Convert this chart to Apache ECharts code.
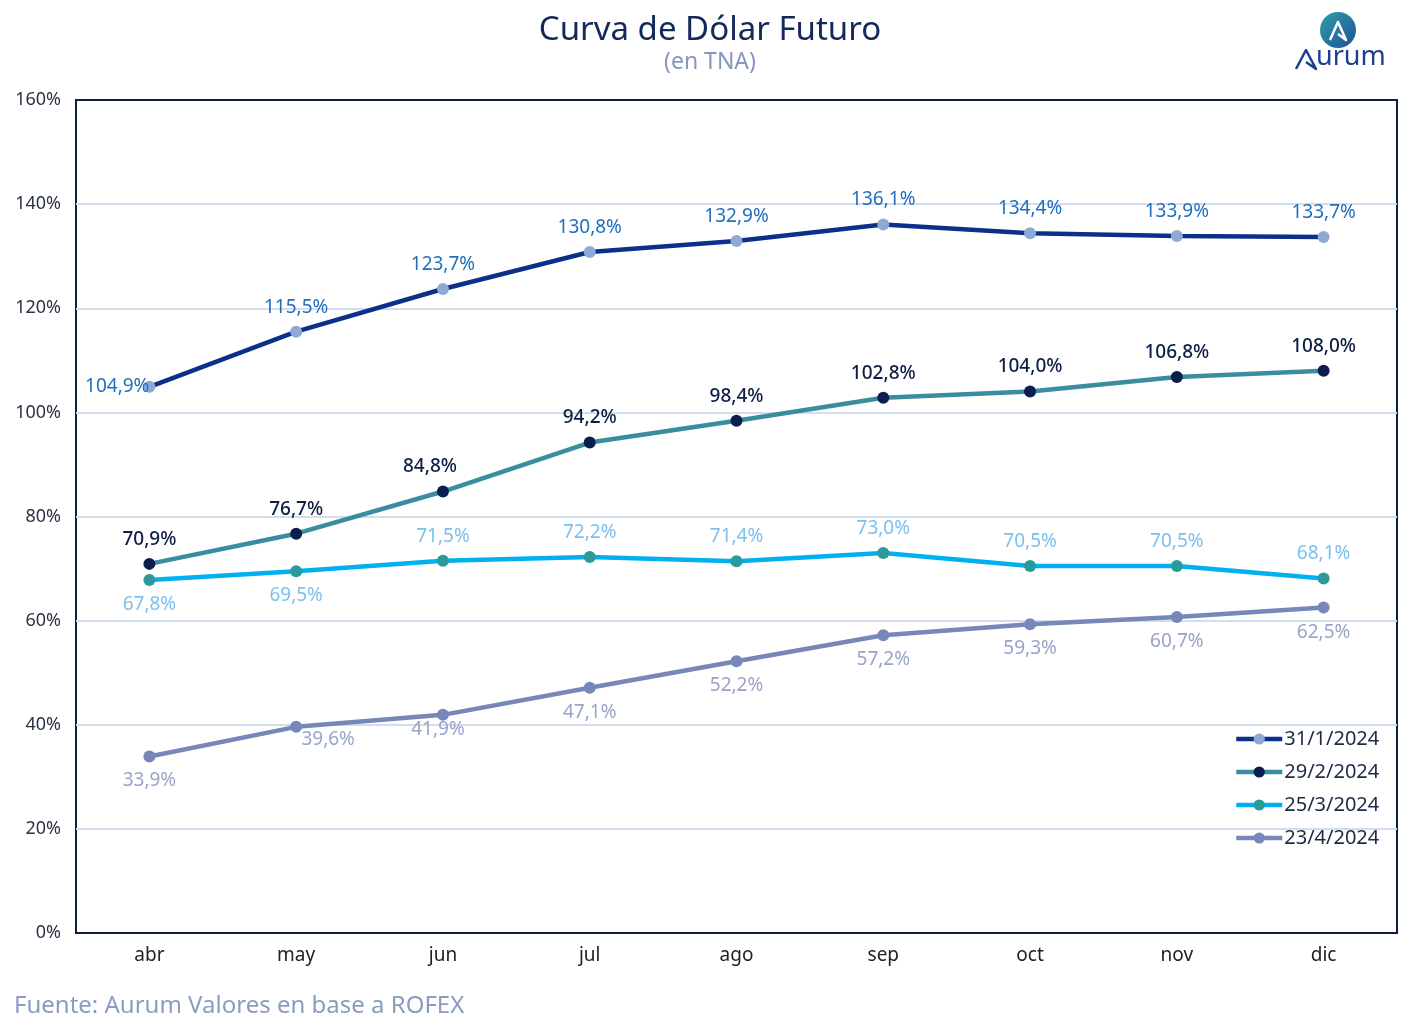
<!DOCTYPE html>
<html>
<head>
<meta charset="utf-8">
<script src="https://cdn.jsdelivr.net/npm/echarts@6/dist/echarts.min.js"></script>
<style>
  html, body { margin: 0; padding: 0; background: #fff; }
  #chart { width: 1420px; height: 1031px; }
</style>
</head>
<body>
<div id="chart"></div>
<script>
const meses = ['abr', 'may', 'jun', 'jul', 'ago', 'sep', 'oct', 'nov', 'dic'];
const fechas = ['31/1/2024', '29/2/2024', '25/3/2024', '23/4/2024'];
const curva_ene = [104.9, 115.5, 123.7, 130.8, 132.9, 136.1, 134.4, 133.9, 133.7];
const curva_feb = [70.9, 76.7, 84.8, 94.2, 98.4, 102.8, 104.0, 106.8, 108.0];
const curva_mar = [67.8, 69.5, 71.5, 72.2, 71.4, 73.0, 70.5, 70.5, 68.1];
const curva_abr = [33.9, 39.6, 41.9, 47.1, 52.2, 57.2, 59.3, 60.7, 62.5];
const yTicks = [0, 20, 40, 60, 80, 100, 120, 140, 160];

const fuente = '"Noto Sans", Lato, sans-serif';
const marco = '#0d1f3c';

function pct(v) {
    return v.toFixed(1).replace('.', ',') + '%';
}

// puntos con la etiqueta movida a mano
function puntos(valores, ajustes) {
    return valores.map(function (v, i) {
        if (ajustes[i]) {
            return { value: v, label: ajustes[i] };
        }
        return v;
    });
}

function serie(nombre, datos, colorLinea, colorPunto, colorTexto, posicion, peso) {
    return {
        name: nombre,
        type: 'line',
        data: datos,
        symbol: 'circle',
        symbolSize: 12,
        lineStyle: { color: colorLinea, width: 4.5 },
        itemStyle: { color: colorPunto },
        color: colorLinea,
        label: {
            show: true,
            position: posicion,
            distance: 9,
            color: colorTexto,
            fontSize: 19,
            fontWeight: peso || 'normal',
            fontFamily: fuente,
            formatter: function (p) { return pct(p.value); }
        },
        emphasis: { disabled: true },
        z: 10
    };
}

let chartDom = document.getElementById('chart');
let myChart = echarts.init(chartDom);
let option;

option = {
    animation: false,
    backgroundColor: '#ffffff',
    grid: {
        left: 76,
        right: 23,
        top: 100,
        bottom: 98,
        show: true,
        borderColor: marco,
        borderWidth: 2
    },
    legend: {
        orient: 'vertical',
        left: 1229,
        top: 724,
        itemWidth: 46,
        itemHeight: 14,
        itemGap: 13,
        data: fechas,
        lineStyle: { width: 4.5 },
        textStyle: { color: '#1c2a48', fontSize: 20, fontFamily: fuente, padding: [0, 0, 0, -3] }
    },
    xAxis: {
        type: 'category',
        data: meses,
        boundaryGap: true,
        axisLine: { show: false },
        axisTick: { show: false },
        axisLabel: { color: '#222', fontSize: 19, fontFamily: fuente, margin: 13 }
    },
    yAxis: {
        type: 'value',
        min: yTicks[0],
        max: yTicks[yTicks.length - 1],
        interval: 20,
        axisLine: { show: false },
        axisTick: { show: false },
        axisLabel: {
            color: '#2a3346',
            fontSize: 18,
            fontFamily: fuente,
            margin: 15,
            formatter: function (v) { return v + '%'; }
        },
        splitLine: {
            showMinLine: false,
            showMaxLine: false,
            lineStyle: { color: '#d3deec', width: 2 }
        }
    },
    series: [
        serie(fechas[0], puntos(curva_ene, {
            0: { position: 'left', distance: -6 }
        }), '#0b2f8a', '#8eaad4', '#1f6fbf', 'top'),
        serie(fechas[1], puntos(curva_feb, {
            2: { offset: [-13, 0] }
        }), '#3a8d9e', '#0b1f4f', '#0d1f45', 'top', 500),
        serie(fechas[2], puntos(curva_mar, {
            0: { position: 'bottom' },
            1: { position: 'bottom' }
        }), '#00b0f0', '#2a9a9a', '#7cc0ef', 'top'),
        serie(fechas[3], puntos(curva_abr, {
            1: { offset: [32, -12] },
            2: { offset: [-5, -10] }
        }), '#7687b8', '#7687b8', '#9aa3c9', 'bottom')
    ],
    graphic: [
        {
            type: 'text', left: 'center', top: 14,
            style: { text: 'Curva de Dólar Futuro', fill: '#13295a', fontSize: 33, fontFamily: fuente },
            x: 41
        },
        {
            type: 'text', left: 'center', top: 51,
            style: { text: '(en TNA)', fill: '#8596bf', fontSize: 23, fontFamily: fuente },
            x: 41
        },
        {
            type: 'text', left: 14, top: 994,
            style: { text: 'Fuente: Aurum Valores en base a ROFEX', fill: '#8a9cc0', fontSize: 24, fontFamily: fuente }
        },
        // logo
        {
            type: 'circle',
            shape: { cx: 1338, cy: 30, r: 18 },
            style: {
                fill: new echarts.graphic.LinearGradient(0, 0, 1, 1, [
                    { offset: 0, color: '#2fa0a8' },
                    { offset: 1, color: '#1f4f9a' }
                ])
            }
        },
        {
            type: 'polyline',
            shape: { points: [[1330, 40], [1338, 22], [1346, 40], [1338, 34]] },
            style: { stroke: '#ffffff', lineWidth: 2.5, fill: null, lineJoin: 'round' }
        },
        {
            type: 'polyline',
            shape: { points: [[1296, 69], [1306, 50], [1316, 69], [1306, 62]] },
            style: { stroke: '#1d3f8f', lineWidth: 2.5, fill: null, lineJoin: 'round' }
        },
        {
            type: 'text', left: 1316, top: 44,
            style: { text: 'urum', fill: '#1d3f8f', fontSize: 27, fontFamily: fuente }
        }
    ]
};

option && myChart.setOption(option);
</script>
</body>
</html>
